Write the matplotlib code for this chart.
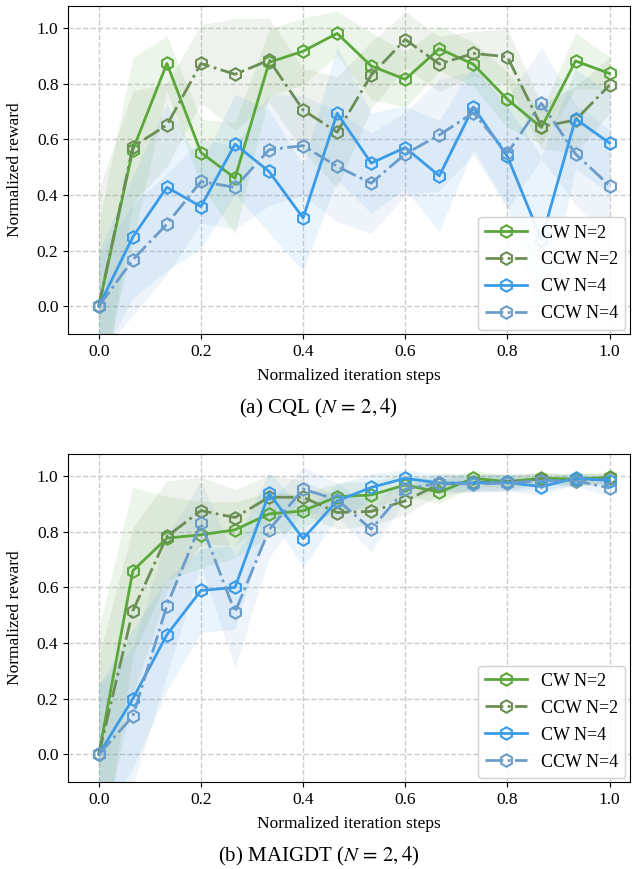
import numpy as np
import matplotlib
matplotlib.use("Agg")
import matplotlib.pyplot as plt

plt.rcParams['font.family'] = ['Liberation Serif', 'DejaVu Serif']
plt.rcParams['mathtext.fontset'] = 'stix'

steps = np.arange(16) / 15

# CQL results (mean, std)
cql_cw2 = [0.0, 0.562, 0.872, 0.552, 0.460, 0.876, 0.916, 0.980, 0.863, 0.815, 0.925, 0.869, 0.743, 0.642, 0.881, 0.836]
cql_ccw2 = [0.0, 0.573, 0.651, 0.872, 0.833, 0.884, 0.705, 0.625, 0.830, 0.958, 0.870, 0.908, 0.896, 0.645, 0.669, 0.794]
cql_cw4 = [0.0, 0.249, 0.427, 0.358, 0.582, 0.484, 0.317, 0.693, 0.514, 0.570, 0.468, 0.715, 0.538, 0.239, 0.673, 0.586]
cql_ccw4 = [0.0, 0.167, 0.295, 0.448, 0.427, 0.562, 0.577, 0.502, 0.442, 0.547, 0.615, 0.695, 0.550, 0.729, 0.547, 0.433]
cql_cw2_std = [0.30, 0.33, 0.10, 0.12, 0.20, 0.12, 0.12, 0.08, 0.12, 0.10, 0.08, 0.08, 0.10, 0.06, 0.10, 0.06]
cql_ccw2_std = [0.42, 0.20, 0.15, 0.14, 0.20, 0.15, 0.15, 0.20, 0.12, 0.10, 0.10, 0.08, 0.10, 0.08, 0.12, 0.10]
cql_cw4_std = [0.20, 0.22, 0.30, 0.15, 0.18, 0.22, 0.19, 0.24, 0.18, 0.15, 0.20, 0.15, 0.18, 0.30, 0.18, 0.18]
cql_ccw4_std = [0.18, 0.20, 0.18, 0.15, 0.15, 0.20, 0.18, 0.20, 0.18, 0.15, 0.20, 0.15, 0.20, 0.20, 0.18, 0.20]

# MAIGDT results (mean, std)
mg_cw2 = [0.0, 0.660, 0.777, 0.789, 0.807, 0.864, 0.875, 0.926, 0.932, 0.968, 0.942, 0.992, 0.980, 0.992, 0.989, 0.995]
mg_ccw2 = [0.0, 0.516, 0.783, 0.876, 0.851, 0.924, 0.924, 0.869, 0.873, 0.911, 0.971, 0.977, 0.980, 0.989, 0.984, 0.992]
mg_cw4 = [0.0, 0.200, 0.430, 0.589, 0.600, 0.938, 0.775, 0.911, 0.959, 0.992, 0.975, 0.975, 0.977, 0.962, 0.992, 0.984]
mg_ccw4 = [0.0, 0.137, 0.535, 0.831, 0.511, 0.807, 0.953, 0.915, 0.809, 0.953, 0.975, 0.971, 0.975, 0.984, 0.983, 0.957]
mg_cw2_std = [0.45, 0.30, 0.15, 0.12, 0.10, 0.08, 0.06, 0.05, 0.05, 0.04, 0.04, 0.03, 0.02, 0.02, 0.02, 0.02]
mg_ccw2_std = [0.35, 0.30, 0.20, 0.12, 0.10, 0.08, 0.06, 0.06, 0.05, 0.05, 0.04, 0.03, 0.03, 0.02, 0.02, 0.02]
mg_cw4_std = [0.25, 0.25, 0.20, 0.15, 0.15, 0.08, 0.10, 0.06, 0.05, 0.03, 0.03, 0.03, 0.03, 0.03, 0.02, 0.02]
mg_ccw4_std = [0.25, 0.25, 0.25, 0.15, 0.20, 0.10, 0.08, 0.06, 0.08, 0.04, 0.03, 0.03, 0.03, 0.03, 0.02, 0.03]

labels = ["CW N=2", "CCW N=2", "CW N=4", "CCW N=4"]
colors = ["#5aa83a", "#6b8e55", "#3a9ce8", "#6a9ccb"]
styles = ["-", "-.", "-", "-."]


def draw(ax, means, stds):
    for m, s, lab, c, ls in zip(means, stds, labels, colors, styles):
        m = np.array(m)
        s = np.array(s)
        ax.fill_between(steps, m - s, m + s, color=c, alpha=0.11, linewidth=0)
        ax.plot(steps, m, ls, color=c, lw=2, marker='h', ms=9,
                mfc='none', mew=1.5, label=lab)
    ax.set_xlim(-0.06, 1.04)
    ax.set_ylim(-0.1, 1.08)
    ax.set_xticks([0.0, 0.2, 0.4, 0.6, 0.8, 1.0])
    ax.set_yticks([0.0, 0.2, 0.4, 0.6, 0.8, 1.0])
    ax.grid(True, ls='--', color='#cccccc', lw=1)
    ax.set_axisbelow(True)
    ax.tick_params(labelsize=12.5)
    ax.set_xlabel("Normalized iteration steps", fontsize=12.5, labelpad=6)
    ax.set_ylabel("Normalized reward", fontsize=12.5, labelpad=10)
    ax.legend(loc='lower right', fontsize=13, handlelength=2.3,
              borderaxespad=0.25, labelspacing=0.55, framealpha=0.9)


fig = plt.figure(figsize=(6.37, 8.69), dpi=100)
ax1 = fig.add_axes([0.107, 0.6156, 0.882, 0.378])
ax2 = fig.add_axes([0.107, 0.0998, 0.882, 0.378])

draw(ax1, [cql_cw2, cql_ccw2, cql_cw4, cql_ccw4],
     [cql_cw2_std, cql_ccw2_std, cql_cw4_std, cql_ccw4_std])
draw(ax2, [mg_cw2, mg_ccw2, mg_cw4, mg_ccw4],
     [mg_cw2_std, mg_ccw2_std, mg_cw4_std, mg_ccw4_std])

fig.text(0.5, 0.530, r"(a) CQL ($N\,=\,2, 4$)", ha='center', va='center', fontsize=15)
fig.text(0.5, 0.014, r"(b) MAIGDT ($N\,=\,2, 4$)", ha='center', va='center', fontsize=15)

fig.savefig("out.png", dpi=100)
